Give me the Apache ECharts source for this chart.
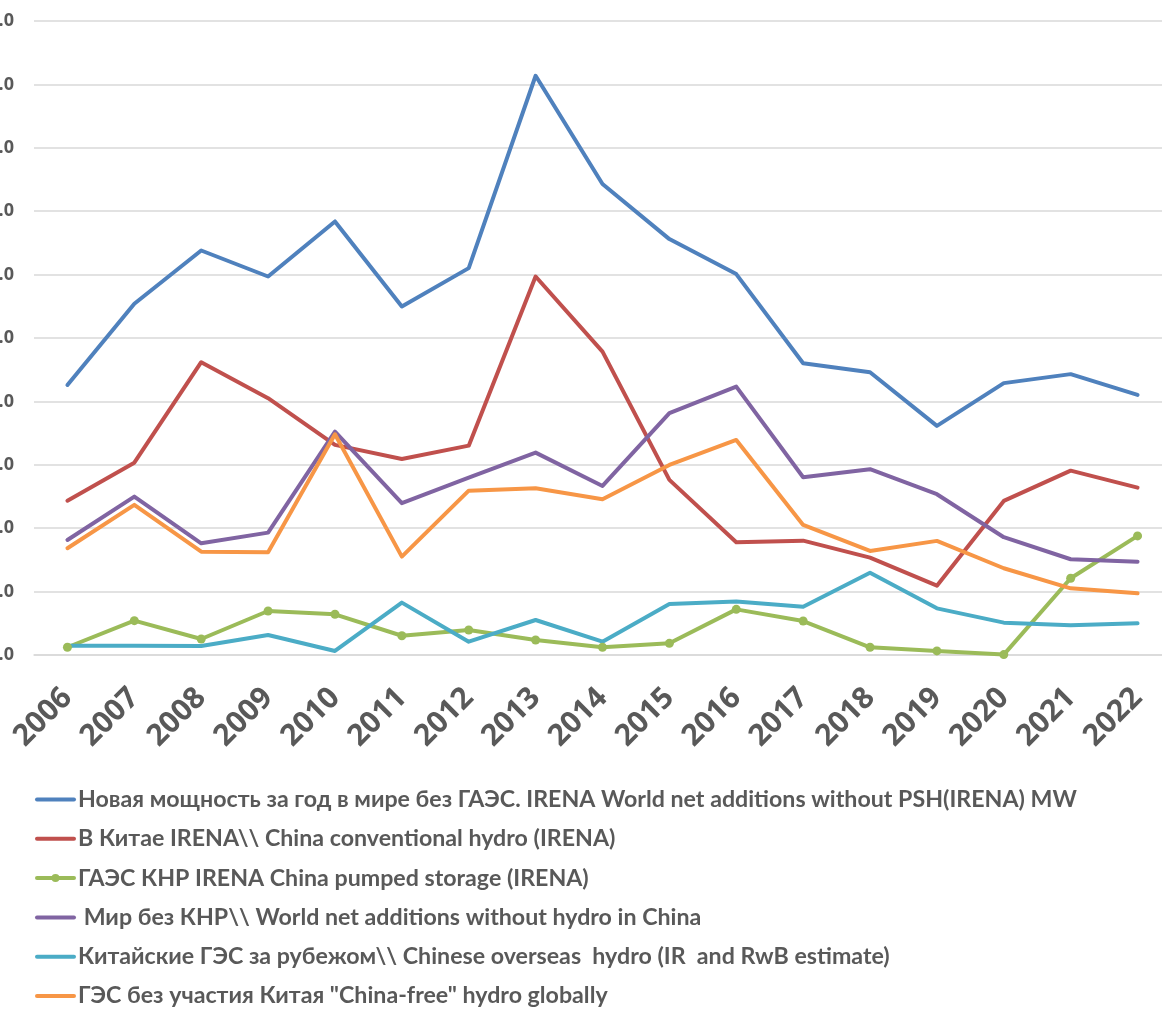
<!DOCTYPE html>
<html>
<head>
<meta charset="utf-8">
<script src="https://cdn.jsdelivr.net/npm/echarts@6/dist/echarts.min.js"></script>
<style>
  html, body { margin: 0; padding: 0; background: #ffffff; }
  #chart { width: 1162px; height: 1011px; }
</style>
</head>
<body>
<div id="chart"></div>
<script>
// Years on the category axis
const years = ['2006','2007','2008','2009','2010','2011','2012','2013','2014','2015','2016','2017','2018','2019','2020','2021','2022'];

// Annual net hydro capacity additions, MW
const worldNoPSH    = [21300, 27700, 31900, 29850, 34190, 27480, 30510, 45680, 37140, 32800, 30040, 23010, 22300, 18070, 21440, 22150, 20510];
const chinaConv     = [12170, 15170, 23090, 20250, 16570, 15460, 16510, 29850, 23930, 13810, 8890, 9020, 7680, 5470, 12150, 14540, 13200];
const chinaPumped   = [610, 2710, 1260, 3470, 3210, 1520, 1970, 1180, 610, 920, 3600, 2680, 610, 320, 30, 6050, 9390];
const worldNoChina  = [9070, 12490, 8810, 9650, 17620, 11970, 13990, 15960, 13330, 19070, 21170, 14020, 14650, 12680, 9290, 7550, 7360];
const chinaOverseas = [730, 730, 710, 1580, 320, 4130, 1050, 2760, 1050, 4020, 4210, 3810, 6490, 3680, 2550, 2340, 2500];
const chinaFree     = [8420, 11840, 8150, 8100, 17410, 7760, 12960, 13150, 12280, 14990, 16960, 10260, 8210, 9000, 6840, 5260, 4870];

// Value axis ticks
const yMin = 0, yMax = 50000, yStep = 5000;

const seriesNames = [
  'Новая мощность за год в мире без ГАЭС. IRENA World net additions without PSH(IRENA) MW',
  'В Китае IRENA\\\\ China conventional hydro (IRENA)',
  'ГАЭС КНР IRENA China pumped storage (IRENA)',
  ' Мир без КНР\\\\ World net additions without hydro in China',
  'Китайские ГЭС за рубежом\\\\ Chinese overseas  hydro (IR  and RwB estimate)',
  'ГЭС без участия Китая "China-free" hydro globally'
];
const seriesData = [worldNoPSH, chinaConv, chinaPumped, worldNoChina, chinaOverseas, chinaFree];
const colors = ['#4F81BD', '#C0504D', '#9BBB59', '#8064A2', '#4BACC6', '#F79646'];
const withMarkers = [false, false, true, false, false, false];

const chart = echarts.init(document.getElementById('chart'), null, { renderer: 'canvas' });

const series = seriesData.map((d, i) => ({
  name: seriesNames[i],
  type: 'line',
  data: d,
  symbol: withMarkers[i] ? 'circle' : 'none',
  symbolSize: 9,
  showSymbol: withMarkers[i],
  lineStyle: { width: 4, color: colors[i], join: 'round', cap: 'round' },
  itemStyle: { color: colors[i] },
  emphasis: { disabled: true },
  animation: false
}));

// Legend entries: plain line for most series, line with a dot for the marked one
const legendData = seriesNames.map((n, i) => withMarkers[i]
  ? { name: n }
  : { name: n, itemStyle: { opacity: 0 } });

chart.setOption({
  animation: false,
  backgroundColor: '#ffffff',
  color: colors,
  grid: { left: 34, top: 21, width: 1137, height: 634, containLabel: false, outerBoundsMode: 'none' },
  xAxis: {
    type: 'category',
    data: years,
    boundaryGap: true,
    axisLine: { show: true, lineStyle: { color: '#d9d9d9', width: 1.5 } },
    axisTick: { show: false },
    axisLabel: {
      rotate: 45,
      interval: 0,
      margin: 38,
      color: '#595959',
      fontFamily: 'Open Sans',
      fontWeight: 'bold',
      fontSize: 30
    }
  },
  yAxis: {
    type: 'value',
    min: yMin,
    max: yMax,
    interval: yStep,
    axisLine: { show: false },
    axisTick: { show: false },
    splitLine: { show: true, lineStyle: { color: '#d9d9d9', width: 1.5 } },
    axisLabel: {
      margin: 20,
      color: '#595959',
      fontFamily: 'Open Sans',
      fontWeight: 'bold',
      fontSize: 18,
      formatter: v => v.toFixed(1)
    }
  },
  legend: {
    orient: 'vertical',
    left: 35,
    top: 788,
    padding: 0,
    itemWidth: 37,
    itemHeight: 10,
    itemGap: 16.3,
    selectedMode: false,
    lineStyle: { width: 4 },
    textStyle: {
      color: '#595959',
      fontFamily: 'Lato',
      fontWeight: 'bold',
      fontSize: 23.2,
      padding: [0, 0, 0, -1]
    },
    data: legendData
  },
  series: series
});
</script>
</body>
</html>
